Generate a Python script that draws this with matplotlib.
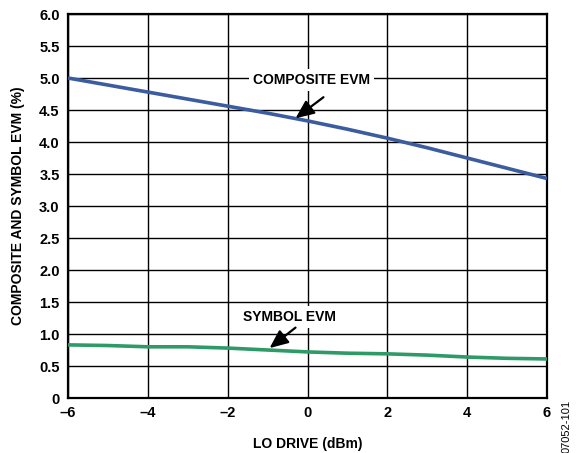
import matplotlib
matplotlib.use("Agg")
import matplotlib.pyplot as plt

lo_drive = [-6, -5, -4, -3, -2, -1, 0, 1, 2, 3, 4, 5, 6]
composite_evm = [5.00, 4.89, 4.78, 4.67, 4.56, 4.45, 4.33, 4.20, 4.06, 3.91, 3.75, 3.59, 3.43]
symbol_evm = [0.83, 0.82, 0.80, 0.80, 0.78, 0.75, 0.72, 0.70, 0.69, 0.67, 0.64, 0.62, 0.61]
x_ticks = [-6, -4, -2, 0, 2, 4, 6]
x_labels = ["\u20136", "\u20134", "\u20132", "0", "2", "4", "6"]
y_ticks = [0, 0.5, 1.0, 1.5, 2.0, 2.5, 3.0, 3.5, 4.0, 4.5, 5.0, 5.5, 6.0]
y_labels = ["0"] + [f"{v:.1f}" for v in y_ticks[1:]]

plt.rcParams['font.family'] = ['Liberation Sans', 'DejaVu Sans']
fig = plt.figure(figsize=(5.76, 4.53), dpi=100)
ax = fig.add_axes([68/576, 1 - 398/453, 479/576, 384/453])

ax.plot(lo_drive, composite_evm, color="#3B5C9E", lw=2.6, solid_capstyle="butt", zorder=3)
ax.plot(lo_drive, symbol_evm, color="#2E9A68", lw=2.6, solid_capstyle="butt", zorder=3)

ax.set_xlim(-6, 6)
ax.set_ylim(0, 6)
ax.set_xticks(x_ticks)
ax.set_xticklabels(x_labels)
ax.set_yticks(y_ticks)
ax.set_yticklabels(y_labels)
ax.grid(True, color="black", lw=1.0, zorder=1)
ax.set_axisbelow(True)
for s in ax.spines.values():
    s.set_linewidth(1.6)
ax.tick_params(length=0, pad=6, labelsize=10.5)
for lab in ax.get_xticklabels() + ax.get_yticklabels():
    lab.set_fontweight("bold")

ax.set_xlabel("LO DRIVE (dBm)", fontsize=10, fontweight="bold", labelpad=12)
ax.set_ylabel("COMPOSITE AND SYMBOL EVM (%)", fontsize=10, fontweight="bold", labelpad=10)

bbox = dict(facecolor="white", edgecolor="none", pad=3)
ax.text(0.1, 4.97, "COMPOSITE EVM", ha="center", va="center", fontsize=10,
        fontweight="bold", bbox=bbox, zorder=4)
ax.annotate("", xy=(-0.3, 4.37), xytext=(0.4, 4.7),
            arrowprops=dict(arrowstyle="-|>,head_length=0.8,head_width=0.35", color="black",
                            lw=1.6, mutation_scale=14, shrinkA=0, shrinkB=0), zorder=4)
ax.text(-0.45, 1.27, "SYMBOL EVM", ha="center", va="center", fontsize=10,
        fontweight="bold", bbox=bbox, zorder=4)
ax.annotate("", xy=(-0.95, 0.78), xytext=(-0.3, 1.1),
            arrowprops=dict(arrowstyle="-|>,head_length=0.8,head_width=0.35", color="black",
                            lw=1.6, mutation_scale=14, shrinkA=0, shrinkB=0), zorder=4)

fig.text(567/576, 1 - 426/453, "07052-101", rotation=90, ha="center", va="center", fontsize=8)

fig.savefig("out.png", dpi=100)
